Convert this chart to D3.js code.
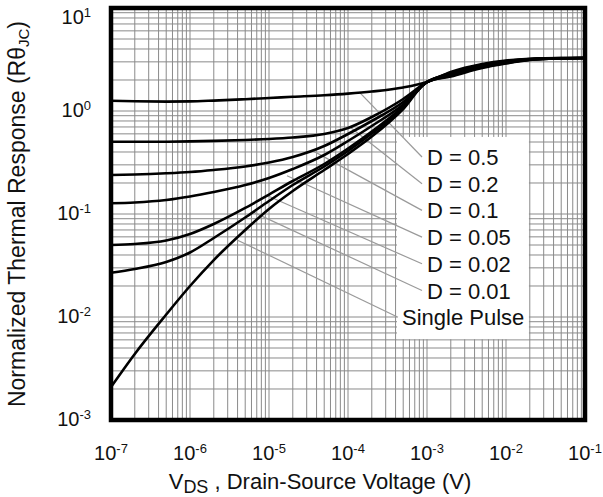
<!DOCTYPE html>
<html>
<head>
<meta charset="utf-8">
<script src="https://cdn.jsdelivr.net/npm/d3@7"></script>
<style>
  body { margin: 0; background: #fff; }
  text { font-family: "Liberation Sans", Arial, sans-serif; fill: #111; }
</style>
</head>
<body>
<div id="chart"></div>
<script>
// pulse width points (x axis) shared by all curves
const tPoints = [1e-7, 2e-7, 5e-7, 1e-6, 2e-6, 5e-6, 1e-5, 2e-5, 5e-5, 1e-4, 2e-4, 5e-4, 1e-3, 2e-3, 5e-3, 1e-2, 2e-2, 5e-2, 1e-1];

const seriesNames = ["D = 0.5", "D = 0.2", "D = 0.1", "D = 0.05", "D = 0.02", "D = 0.01", "Single Pulse"];
const d05  = [1.259, 1.242, 1.234, 1.239, 1.262, 1.302, 1.337, 1.374, 1.423, 1.475, 1.546, 1.691, 1.912, 2.391, 2.860, 3.093, 3.213, 3.264, 3.270];
const d02  = [0.5035, 0.5024, 0.5035, 0.5070, 0.5127, 0.5232, 0.5349, 0.5530, 0.5979, 0.6839, 0.8744, 1.307, 1.912, 2.351, 2.818, 3.058, 3.199, 3.260, 3.270];
const d01  = [0.2391, 0.2418, 0.2484, 0.2557, 0.2675, 0.2892, 0.3162, 0.3575, 0.4572, 0.5979, 0.7997, 1.223, 1.912, 2.312, 2.776, 3.024, 3.184, 3.257, 3.270];
const d005 = [0.1270, 0.1293, 0.1367, 0.1479, 0.1635, 0.1912, 0.2237, 0.2734, 0.3739, 0.5114, 0.7152, 1.157, 1.912, 2.274, 2.735, 2.990, 3.170, 3.253, 3.270];
const d002 = [0.0500, 0.05113, 0.0553, 0.06393, 0.07993, 0.1144, 0.1546, 0.2091, 0.3058, 0.4324, 0.6324, 1.106, 1.912, 2.236, 2.694, 2.957, 3.155, 3.249, 3.270];
const d001 = [0.02692, 0.02924, 0.0342, 0.04228, 0.05848, 0.09247, 0.1337, 0.1912, 0.2892, 0.4089, 0.6047, 1.081, 1.912, 2.199, 2.655, 2.924, 3.141, 3.246, 3.270];
const dSP  = [0.00209, 0.00438, 0.01057, 0.0200, 0.0357, 0.0699, 0.1119, 0.1672, 0.2673, 0.3826, 0.5649, 1.046, 1.912, 2.163, 2.615, 2.892, 3.127, 3.242, 3.270];
const seriesValues = [d05, d02, d01, d005, d002, d001, dSP];

// leader line start points on each curve [x, y]
const leaderStart = [[1.42e-4, 1.50], [1.06e-4, 0.70], [3.61e-5, 0.41], [1.69e-5, 0.235], [9.44e-6, 0.151], [6.27e-6, 0.1045], [3.94e-6, 0.056]];

const xTickExp = [-7, -6, -5, -4, -3, -2, -1];
const yTickExp = [-3, -2, -1, 0, 1];

const W = 603, H = 497;
const svg = d3.select("#chart").append("svg")
  .attr("width", W)
  .attr("height", H);

const x = d3.scaleLog().domain([1e-7, 1e-1]).range([111, 585]);
const y = d3.scaleLog().domain([1e-3, 1e1]).range([420, 8]);

// minor + major grid
const xGrid = [];
for (let e = -7; e < -1; e++) for (let k = 1; k < 10; k++) xGrid.push(k * Math.pow(10, e));
const yGrid = [];
for (let e = -3; e < 1; e++) for (let k = 1; k < 10; k++) yGrid.push(k * Math.pow(10, e));

const grid = svg.append("g").attr("stroke", "#8a8a8a").attr("stroke-width", 1);
grid.selectAll("line.vx")
  .data(xGrid)
  .join("line")
  .attr("x1", d => x(d)).attr("x2", d => x(d))
  .attr("y1", y(1e1)).attr("y2", y(1e-3));
grid.selectAll("line.hy")
  .data(yGrid)
  .join("line")
  .attr("class", "hy")
  .attr("y1", d => y(d)).attr("y2", d => y(d))
  .attr("x1", x(1e-7)).attr("x2", x(1e-1));

// white box behind the legend labels
const boxX = [4.17e-4, 1.95e-2], boxY = [0.56, 0.0061];
svg.append("rect")
  .attr("x", x(boxX[0]))
  .attr("y", y(boxY[0]))
  .attr("width", x(boxX[1]) - x(boxX[0]))
  .attr("height", y(boxY[1]) - y(boxY[0]))
  .attr("fill", "#fff");

// legend labels
const labelTop = 165, labelStep = 26.7;
svg.append("g").selectAll("text")
  .data(seriesNames)
  .join("text")
  .attr("x", (d, i) => i < 6 ? 427 : 402)
  .attr("y", (d, i) => labelTop + i * labelStep)
  .style("font-size", "22px")
  .text(d => d);

// leader lines
svg.append("g")
  .selectAll("line")
  .data(leaderStart)
  .join("line")
  .attr("x1", d => x(d[0]))
  .attr("y1", d => y(d[1]))
  .attr("x2", (d, i) => i < 6 ? 422 : 398)
  .attr("y2", (d, i) => labelTop - 8 + i * labelStep)
  .attr("stroke", "#9a9a9a")
  .attr("stroke-width", 1.2);

// curves
const line = d3.line()
  .x((d, i) => x(tPoints[i]))
  .y(d => y(d))
  .curve(d3.curveMonotoneX);

svg.append("g")
  .selectAll("path")
  .data(seriesValues)
  .join("path")
  .attr("d", d => line(d))
  .attr("fill", "none")
  .attr("stroke", "#000")
  .attr("stroke-width", 2.6)
  .attr("stroke-linejoin", "round");

// frame
svg.append("rect")
  .attr("x", x(1e-7))
  .attr("y", y(1e1))
  .attr("width", x(1e-1) - x(1e-7))
  .attr("height", y(1e-3) - y(1e1))
  .attr("fill", "none")
  .attr("stroke", "#000")
  .attr("stroke-width", 4.5);

// x tick labels
const xt = svg.append("g").selectAll("text")
  .data(xTickExp)
  .join("text")
  .attr("x", d => x(Math.pow(10, d)))
  .attr("y", 460)
  .attr("text-anchor", "middle")
  .style("font-size", "20px");
xt.append("tspan").text("10");
xt.append("tspan").attr("dy", -7).style("font-size", "13px").text(d => d);

// y tick labels
const yt = svg.append("g").selectAll("text")
  .data(yTickExp)
  .join("text")
  .attr("x", 91)
  .attr("y", d => Math.max(y(Math.pow(10, d)) + 6, 24))
  .attr("text-anchor", "end")
  .style("font-size", "20px");
yt.append("tspan").text("10");
yt.append("tspan").attr("dy", -7).style("font-size", "13px").text(d => d);

// axis titles
const xTitle = svg.append("text")
  .attr("x", 320)
  .attr("y", 489)
  .attr("text-anchor", "middle")
  .style("font-size", "22px");
xTitle.append("tspan").text("V");
xTitle.append("tspan").attr("dy", 4).style("font-size", "18px").text("DS");
xTitle.append("tspan").attr("dy", -4).text(" , Drain-Source Voltage (V)");

const yTitle = svg.append("text")
  .attr("transform", `translate(25,${(y(1e1) + y(1e-3)) / 2}) rotate(-90)`)
  .attr("text-anchor", "middle")
  .style("font-size", "23px");
yTitle.append("tspan").text("Normalized Thermal Response (Rθ");
yTitle.append("tspan").attr("dy", 4).style("font-size", "15px").text("JC");
yTitle.append("tspan").attr("dy", -4).text(")");
</script>
</body>
</html>
